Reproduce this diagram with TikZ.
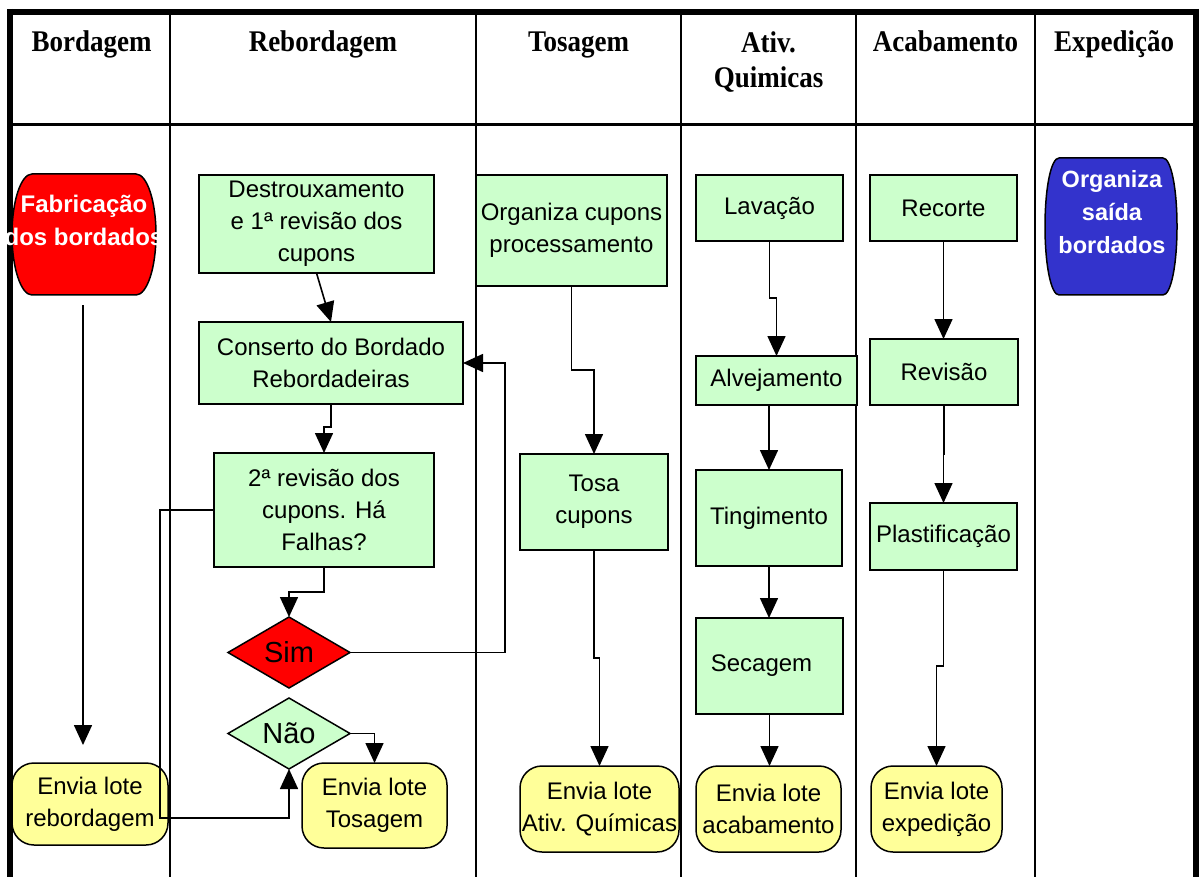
\documentclass[tikz,border=0pt]{standalone}
\usepackage{fontspec}
\setmainfont{Liberation Sans}
\newfontfamily\hdrfont{Liberation Serif}[FakeStretch=0.9]
\usetikzlibrary{arrows.meta,shapes.geometric}
\definecolor{boxgreen}{HTML}{CCFFCC}
\definecolor{boxyellow}{HTML}{FFFF99}
\definecolor{boxred}{HTML}{FF0000}
\definecolor{boxblue}{HTML}{3333CC}
\begin{document}
\begin{tikzpicture}[x=1pt,y=-1pt,
  hdr/.style={font=\hdrfont\bfseries\fontsize{30}{35}\selectfont, align=center, inner sep=0pt},
  procbox/.style={draw=black, line width=1.5pt, fill=boxgreen, inner sep=0pt, outer sep=0pt, align=center, font=\fontsize{24}{32}\selectfont},
  endbox/.style={draw=black, line width=1.5pt, fill=boxyellow, rounded corners=22pt, inner sep=0pt, outer sep=0pt, align=center, font=\fontsize{24}{32}\selectfont},
  barrelbox/.style={inner sep=0pt, outer sep=0pt},
  barrelline/.style={draw=black, line width=1.5pt},
  barreltext/.style={text=white, font=\bfseries\fontsize{23.5}{33}\selectfont, align=center, inner sep=0pt},
  decision/.style={diamond, aspect=1.7, draw=black, line width=1.5pt, inner sep=0pt, outer sep=0pt, font=\fontsize{29}{32}\selectfont},
  arr/.style={line width=1.6pt, -{Triangle[length=20pt,width=18pt]}},
  frameline/.style={line width=6pt},
  lane/.style={line width=2pt},
]
\fill[white] (0,0) rectangle (1199,877);
\useasboundingbox (0,0) rectangle (1199,877);
% frame
\draw[frameline] (7,12) -- (1199,12);
\draw[frameline] (10,9) -- (10,877);
\draw[frameline] (1196,9) -- (1196,877);
\draw[line width=3pt] (13,125) -- (1193,125);
\foreach \x in {170,476,681,856,1035} \draw[lane] (\x,15) -- (\x,877);
% headers
\node[hdr, anchor=base] (hbor) at (91.5,52) {Bordagem};
\node[hdr, anchor=base] (hreb) at (323,52) {Rebordagem};
\node[hdr, anchor=base] (htos) at (578.5,52) {Tosagem};
\node[hdr, anchor=north] (hati) at (768.5,31) {Ativ.\\Quimicas};
\node[hdr, anchor=base] (haca) at (945.5,52) {Acabamento};
\node[hdr, anchor=base] (hexp) at (1114,52) {Expedição};
% Bordagem
\node[barrelbox, minimum width=144pt, minimum height=121pt] (fab) at (84,234.5) {};
\draw[barrelline, fill=boxred] ([shift={(20,0)}]fab.north west) -- ([shift={(-20,0)}]fab.north east)
  .. controls ([shift={(-9,0)}]fab.north east) and ([shift={(0,27)}]fab.north east) .. (fab.east)
  .. controls ([shift={(0,-27)}]fab.south east) and ([shift={(-9,0)}]fab.south east) .. ([shift={(-20,0)}]fab.south east)
  -- ([shift={(20,0)}]fab.south west)
  .. controls ([shift={(9,0)}]fab.south west) and ([shift={(0,-27)}]fab.south west) .. (fab.west)
  .. controls ([shift={(0,27)}]fab.north west) and ([shift={(9,0)}]fab.north west) .. cycle;
\node[barreltext, font=\bfseries\fontsize{24}{33}\selectfont] (fabtxt) at (84,220) {Fabricação\\dos bordados};
\node[endbox, minimum width=156pt, minimum height=82pt] (envreb) at (90,804) {Envia lote\\rebordagem};
% Rebordagem
\node[procbox, minimum width=235pt, minimum height=98pt] (des) at (316.5,224) {Destrouxamento\\e 1ª revisão dos\\cupons};
\node[procbox, minimum width=264pt, minimum height=82pt] (con) at (331,363) {Conserto do Bordado\\Rebordadeiras};
\node[procbox, minimum width=220pt, minimum height=114pt] (rev2) at (324,510) {2ª revisão dos\\cupons. Há\\Falhas?};
\node[decision, fill=boxred, minimum width=122pt, minimum height=71pt] (sim) at (289,652.5) {Sim};
\node[decision, fill=boxgreen, minimum width=122pt, minimum height=71pt] (nao) at (289,733.5) {Não};
\node[endbox, minimum width=145pt, minimum height=85pt] (envtos) at (374.5,805.5) {Envia lote\\Tosagem};
% Tosagem
\node[procbox, minimum width=191pt, minimum height=111pt] (orgc) at (571.5,230.5) {Organiza cupons\\processamento};
\node[procbox, minimum width=148pt, minimum height=96pt] (tosa) at (594,502) {Tosa\\cupons};
\node[endbox, minimum width=159pt, minimum height=86pt] (envati) at (599.5,809) {Envia lote\\Ativ. Químicas};
% Ativ. Quimicas
\node[procbox, minimum width=147pt, minimum height=66pt] (lav) at (769.5,208) {Lavação};
\node[procbox, minimum width=161pt, minimum height=49pt] (alv) at (776.5,380.5) {Alvejamento};
\node[procbox, minimum width=146pt, minimum height=96pt] (ting) at (769,518) {Tingimento};
\node[procbox, minimum width=147pt, minimum height=96pt] (sec) at (769.5,666) {\hspace*{-16pt}Secagem};
\node[endbox, minimum width=145pt, minimum height=86pt] (envaca) at (768.5,809) {Envia lote\\acabamento};
% Acabamento
\node[procbox, minimum width=147pt, minimum height=66pt] (rec) at (943.5,208) {Recorte};
\node[procbox, minimum width=148pt, minimum height=66pt] (revi) at (944,372) {Revisão};
\node[procbox, minimum width=147pt, minimum height=67pt] (pla) at (943.5,536.5) {Plastificação};
\node[endbox, minimum width=131pt, minimum height=86pt] (envexp) at (936.5,809) {Envia lote\\expedição};
% Expedicao
\node[barrelbox, minimum width=132pt, minimum height=137pt] (orgs) at (1111,226.5) {};
\draw[barrelline, fill=boxblue] ([shift={(14,0)}]orgs.north west) -- ([shift={(-14,0)}]orgs.north east)
  .. controls ([shift={(-6,0)}]orgs.north east) and ([shift={(0,30)}]orgs.north east) .. (orgs.east)
  .. controls ([shift={(0,-30)}]orgs.south east) and ([shift={(-6,0)}]orgs.south east) .. ([shift={(-14,0)}]orgs.south east)
  -- ([shift={(14,0)}]orgs.south west)
  .. controls ([shift={(6,0)}]orgs.south west) and ([shift={(0,-30)}]orgs.south west) .. (orgs.west)
  .. controls ([shift={(0,30)}]orgs.north west) and ([shift={(6,0)}]orgs.north west) .. cycle;
\node[barreltext] (orgstxt) at (1112,212) {Organiza\\saída\\bordados};
% connectors
\draw[arr] ([shift={(-1,10)}]fab.south) -- ([shift={(-7,-18)}]envreb.north);
\draw[arr] (des.south) -- (con.north);
\draw[arr] (con.south) -- ++(0,23) -| (rev2.north);
\draw[arr] (rev2.south) -- ++(0,25) -| (sim.north);
\draw[arr] (sim.east) -- ++(155,0) |- (con.east);
\draw[arr] (rev2.west) -- ++(-54,0) -- ++(0,308) -| (nao.south);
\draw[arr] (nao.east) -| (envtos.north);
\draw[arr] (orgc.south) -- ++(0,84) -| (tosa.north);
\draw[arr] (tosa.south) -- ++(0,108) -| (envati.north);
\draw[arr] (lav.south) -- ++(0,57) -| (alv.north);
\draw[arr] (alv.south -| ting.north) -- (ting.north);
\draw[arr] (ting.south) -- (ting.south |- sec.north);
\draw[arr] (sec.south) -- (sec.south |- envaca.north);
\draw[arr] (rec.south) -- (rec.south |- revi.north);
\draw[arr] (revi.south) -- ++(0,49) -| (pla.north);
\draw[arr] (pla.south) -- ++(0,96) -| (envexp.north);
\end{tikzpicture}
\end{document}
